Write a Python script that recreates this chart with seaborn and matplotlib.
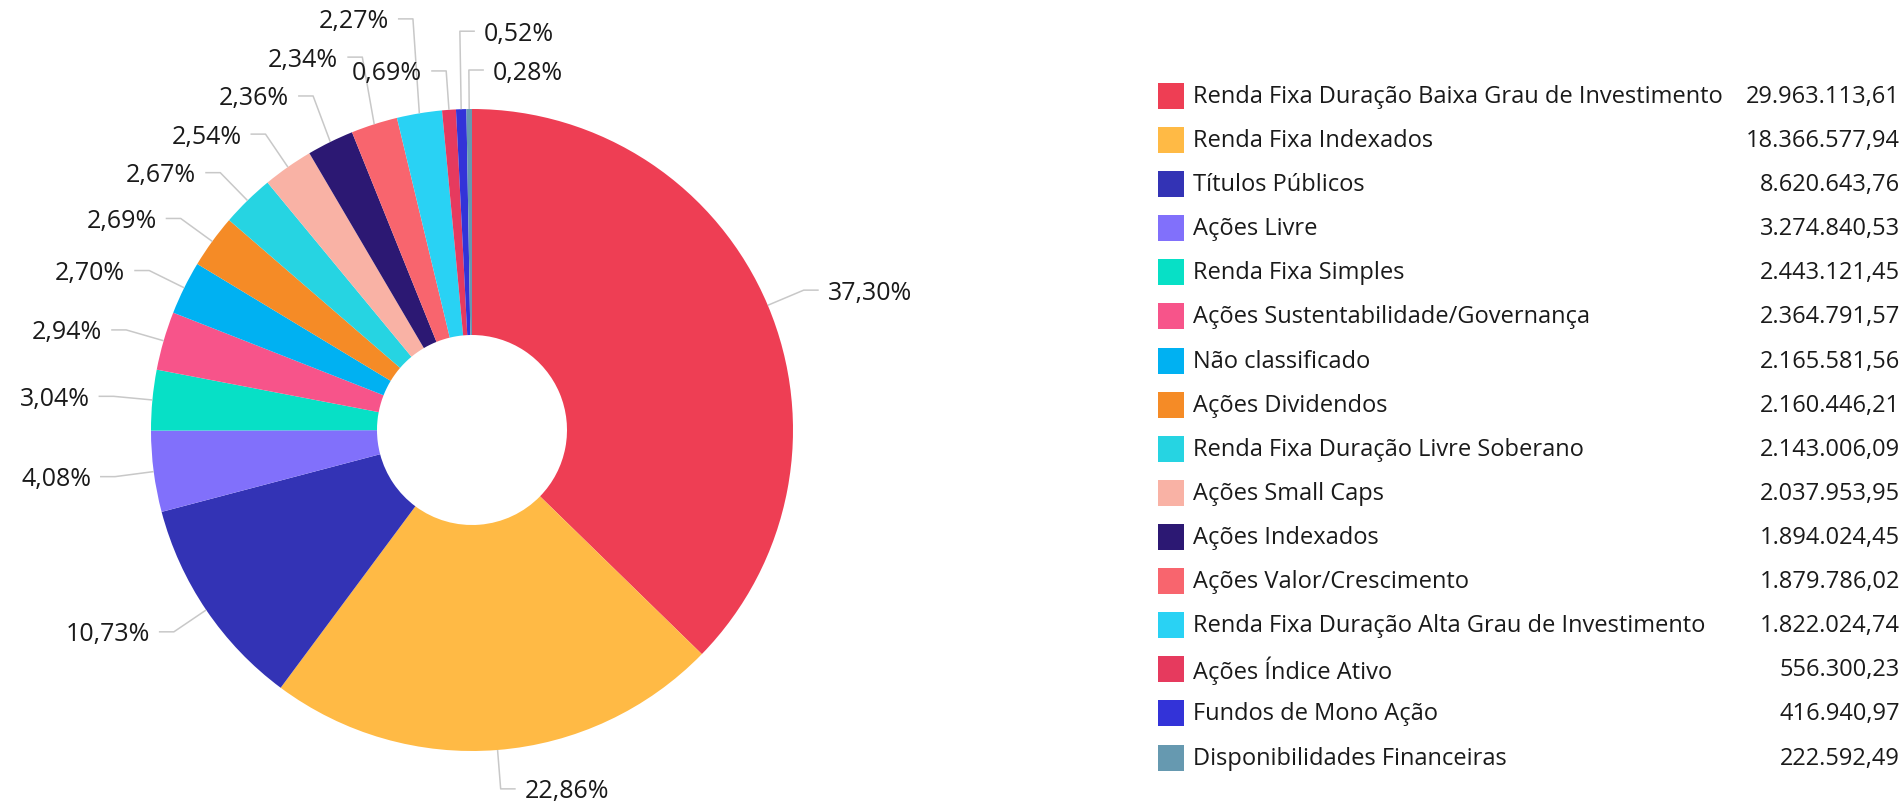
import numpy as np
import pandas as pd
import seaborn as sns
from matplotlib import pyplot as plt
from matplotlib.patches import Rectangle

categories = [
    'Renda Fixa Duração Baixa Grau de Investimento',
    'Renda Fixa Indexados',
    'Títulos Públicos',
    'Ações Livre',
    'Renda Fixa Simples',
    'Ações Sustentabilidade/Governança',
    'Não classificado',
    'Ações Dividendos',
    'Renda Fixa Duração Livre Soberano',
    'Ações Small Caps',
    'Ações Indexados',
    'Ações Valor/Crescimento',
    'Renda Fixa Duração Alta Grau de Investimento',
    'Ações Índice Ativo',
    'Fundos de Mono Ação',
    'Disponibilidades Financeiras',
]
values = [
    29963113.61, 18366577.94, 8620643.76, 3274840.53, 2443121.45,
    2364791.57, 2165581.56, 2160446.21, 2143006.09, 2037953.95,
    1894024.45, 1879786.02, 1822024.74, 556300.23, 416940.97, 222592.49,
]
colors = [
    '#EE3E54', '#FFBA45', '#3333B5', '#8170FB', '#07E0C6', '#F7548A',
    '#00B1F2', '#F58B26', '#26D4E2', '#F9B2A5', '#2C1873', '#F8656E',
    '#29D2F4', '#E63A5E', '#3333D8', '#6699B0',
]

TEXT_COLOR = '#1a1a1a'
LINE_COLOR = '#c8c8c8'
LABEL_SIZE = 18
LEGEND_SIZE = 17


def fmt_br(v, decimals=2):
    # 1,234.56 -> 1.234,56
    s = f'{v:,.{decimals}f}'
    return s.replace(',', '#').replace('.', ',').replace('#', '.')


sns.set_theme(style='white')
plt.rcParams['font.family'] = ['Open Sans', 'DejaVu Sans']

W, H = 1904, 805
fig = plt.figure(figsize=(W / 100, H / 100), dpi=100)
ax = fig.add_axes([0, 0, 1, 1])

# pixel coordinates, y pointing up
cx, cy = 472, H - 430
r_out, r_in = 321, 95
ax.pie(values, colors=colors, startangle=90, counterclock=False,
       radius=r_out, center=(cx, cy),
       wedgeprops={'width': r_out - r_in, 'linewidth': 0})
ax.set_xlim(0, W)
ax.set_ylim(0, H)
ax.set_aspect('equal')
ax.axis('off')

df = pd.DataFrame({'name': categories, 'value': values, 'color': colors})
df['pct'] = df['value'] / df['value'].sum() * 100
df['mid'] = np.radians((df['pct'].cumsum() - df['pct'] / 2) * 3.6)  # clockwise from 12h

# labels with leader lines, pushed apart when they collide
r_elbow, seg, gap, min_dy = 360, 15, 9, 38
renderer = fig.canvas.get_renderer()
labels = []
for i, row in df.iterrows():
    deg = np.degrees(row['mid'])
    left = 180 < deg < 357
    ex = cx + r_elbow * np.sin(row['mid'])
    ey = cy + r_elbow * np.cos(row['mid'])
    t = ax.text(0, 0, fmt_br(row['pct']) + '%', fontsize=LABEL_SIZE, color=TEXT_COLOR,
                ha='right' if left else 'left', va='center')
    w = t.get_window_extent(renderer).width
    if left:
        x0, x1 = ex - seg - gap - w, ex - seg - gap
    else:
        x0, x1 = ex + seg + gap, ex + seg + gap + w
    labels.append(dict(t=t, left=left, ex=ex, ey=ey, x0=x0, x1=x1, a=row['mid'],
                       up=np.cos(row['mid']) > 0))

order = sorted([l for l in labels if l['left']], key=lambda l: l['ey']) + \
        sorted([l for l in labels if not l['left']], key=lambda l: -l['ey'])
placed = []
for lab in order:
    y = lab['ey']
    step = 1 if lab['up'] else -1
    while any(lab['x0'] < p['x1'] and p['x0'] < lab['x1'] and abs(y - p['y']) < min_dy
              for p in placed):
        y += step
    lab['y'] = y
    placed.append(lab)

for lab in labels:
    ax_x = cx + r_out * np.sin(lab['a'])
    ax_y = cy + r_out * np.cos(lab['a'])
    end = lab['ex'] - seg if lab['left'] else lab['ex'] + seg
    ax.plot([ax_x, lab['ex'], end], [ax_y, lab['y'], lab['y']],
            color=LINE_COLOR, lw=1.1, solid_capstyle='butt')
    tx = end - gap if lab['left'] else end + gap
    lab['t'].set_position((tx, lab['y'] - 3))

# legend with values
leg_x, leg_top, row_h, sw = 1158, 96, 44.1, 26
for i, row in df.iterrows():
    yc = H - (leg_top + i * row_h)
    ax.add_patch(Rectangle((leg_x, yc - sw / 2), sw, sw, color=row['color'], lw=0))
    ax.text(leg_x + 35, yc - 1, row['name'], fontsize=LEGEND_SIZE, color=TEXT_COLOR,
            ha='left', va='center')
    ax.text(W - 4, yc - 1, fmt_br(row['value']), fontsize=LEGEND_SIZE, color=TEXT_COLOR,
            ha='right', va='center')

fig.savefig('out.png', dpi=100)
